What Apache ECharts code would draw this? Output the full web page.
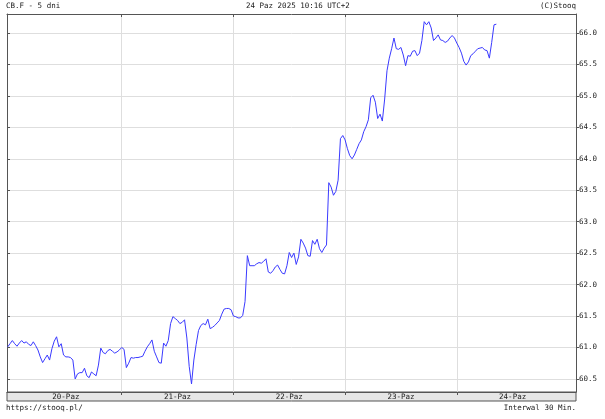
<!DOCTYPE html>
<html><head><meta charset="utf-8">
<script src="https://cdn.jsdelivr.net/npm/echarts@6/dist/echarts.min.js"></script>
<style>html,body{margin:0;padding:0;background:#fff}#c{width:605px;height:419px}</style>
</head><body><div id="c"></div>
<script>
// Day labels (categories)
const days = ['20-Paz', '21-Paz', '22-Paz', '23-Paz', '24-Paz'];
// Value of the last bar before 20-Paz 00:00
const prevValue = 61.01;
// 30-minute values, each day from 00:00
const day1 = [61.06, 61.11, 61.06, 61.02, 61.07, 61.11, 61.07, 61.09, 61.05, 61.03, 61.09, 61.03,
  60.96, 60.85, 60.76, 60.82, 60.88, 60.80, 60.98, 61.10, 61.17, 61.01, 61.06, 60.88,
  60.85, 60.85, 60.84, 60.80, 60.50, 60.58, 60.60, 60.60, 60.67, 60.55, 60.52, 60.61,
  60.58, 60.55, 60.72, 60.99, 60.92, 60.90, 60.95, 60.97, 60.94, 60.91, 60.93, 60.96];
const day2 = [61.00, 60.97, 60.68, 60.75, 60.84, 60.83, 60.84, 60.84, 60.85, 60.86, 60.94, 61.01,
  61.06, 61.12, 60.94, 60.85, 60.76, 60.75, 61.07, 61.02, 61.11, 61.38, 61.49, 61.46,
  61.43, 61.38, 61.40, 61.44, 61.15, 60.70, 60.42, 60.80, 61.05, 61.27, 61.35, 61.38,
  61.36, 61.45, 61.30, 61.32, 61.35, 61.39, 61.43, 61.53, 61.61, 61.62, 61.62, 61.60];
const day3 = [61.50, 61.49, 61.47, 61.47, 61.51, 61.73, 62.46, 62.30, 62.30, 62.30, 62.33, 62.35,
  62.34, 62.37, 62.41, 62.20, 62.18, 62.22, 62.28, 62.31, 62.24, 62.18, 62.17, 62.30,
  62.51, 62.43, 62.50, 62.32, 62.44, 62.72, 62.66, 62.58, 62.46, 62.45, 62.70, 62.64,
  62.72, 62.57, 62.51, 62.58, 62.63, 63.62, 63.55, 63.42, 63.48, 63.66, 64.32, 64.37];
const day4 = [64.30, 64.16, 64.05, 64.00, 64.06, 64.15, 64.24, 64.30, 64.43, 64.51, 64.62, 64.97,
  65.01, 64.90, 64.64, 64.71, 64.60, 64.95, 65.40, 65.60, 65.75, 65.92, 65.75, 65.74,
  65.77, 65.65, 65.48, 65.64, 65.63, 65.71, 65.72, 65.64, 65.68, 65.88, 66.18, 66.13,
  66.18, 66.08, 65.88, 65.92, 65.97, 65.89, 65.88, 65.85, 65.87, 65.92, 65.96, 65.92];
const day5 = [65.84, 65.77, 65.68, 65.55, 65.49, 65.54, 65.64, 65.67, 65.71, 65.75, 65.76, 65.77,
  65.73, 65.72, 65.60, 65.85, 66.13, 66.14];
// Price tick labels
const yTicks = [60.5, 61.0, 61.5, 62.0, 62.5, 63.0, 63.5, 64.0, 64.5, 65.0, 65.5, 66.0];

// x is measured in 30-minute bars since 20-Paz 00:00
const BARS_PER_DAY = 48;
const data = [[-1, prevValue]];
[day1, day2, day3, day4, day5].forEach((arr, d) => {
  arr.forEach((v, j) => data.push([d * BARS_PER_DAY + j, v]));
});
const midnights = [1, 2, 3, 4].map(d => d * BARS_PER_DAY);
const noons = days.map((_, d) => d * BARS_PER_DAY + BARS_PER_DAY / 2);

const FONT = 'DejaVu Sans Mono';
const txt = { fontFamily: FONT, fontSize: 7.5, color: '#1a1a1a', fontWeight: 'normal', lineHeight: 9 };
const xMin = -1.3, xMax = 243.23;
const yMin = 60.292, yMax = 66.302;
const frame = '#555';

const chart = echarts.init(document.getElementById('c'), null, { renderer: 'canvas' });
chart.setOption({
  animation: false,
  backgroundColor: '#fff',
  title: [
    { text: 'CB.F - 5 dni', left: 6, top: 1.5, padding: 0, textStyle: txt },
    { text: '24 Paz 2025 10:16 UTC+2', left: 246, top: 1.5, padding: 0, textStyle: txt },
    { text: '(C)Stooq', right: 29, top: 1.5, padding: 0, textStyle: txt },
    { text: 'https://stooq.pl/', left: 6, top: 403.5, padding: 0, textStyle: txt },
    { text: 'Interwal 30 Min.', right: 29, top: 403.5, padding: 0, textStyle: txt }
  ],
  graphic: [
    { type: 'rect', z: -1, shape: { x: 7, y: 392, width: 569, height: 9 },
      style: { fill: '#e6e6e6', stroke: frame, lineWidth: 1 } }
  ],
  grid: { left: 7, right: 29, top: 14, bottom: 27 },
  xAxis: [
    { type: 'value', position: 'bottom', min: xMin, max: xMax,
      axisLine: { show: true, onZero: false, lineStyle: { color: frame, width: 1 } },
      axisTick: { show: true, customValues: midnights, length: 3, lineStyle: { color: frame } },
      splitLine: { show: true, lineStyle: { color: '#dedede', width: 1 } },
      axisLabel: { customValues: noons, margin: 1, ...txt,
        formatter: v => days[Math.floor(v / BARS_PER_DAY)] } },
    { type: 'value', position: 'top', min: xMin, max: xMax,
      axisLine: { show: true, onZero: false, lineStyle: { color: frame, width: 1 } },
      axisTick: { show: true, inside: true, customValues: midnights, length: 3, lineStyle: { color: frame } },
      splitLine: { show: false }, axisLabel: { show: false } }
  ],
  yAxis: [
    { type: 'value', position: 'right', min: yMin, max: yMax,
      axisLine: { show: true, onZero: false, lineStyle: { color: frame, width: 1 } },
      axisTick: { show: true, customValues: yTicks, length: 3, lineStyle: { color: frame } },
      splitLine: { show: true, lineStyle: { color: '#dedede', width: 1 } },
      axisLabel: { customValues: yTicks, margin: 3, ...txt, formatter: v => v.toFixed(1) } },
    { type: 'value', position: 'left', min: yMin, max: yMax,
      axisLine: { show: true, onZero: false, lineStyle: { color: frame, width: 1 } },
      axisTick: { show: true, inside: true, customValues: yTicks, length: 3, lineStyle: { color: frame } },
      splitLine: { show: false }, axisLabel: { show: false } }
  ],
  series: [{
    type: 'line', xAxisIndex: 0, yAxisIndex: 0, data: data,
    showSymbol: false, symbol: 'none',
    lineStyle: { color: '#3a3aff', width: 1 }
  }]
});
</script></body></html>
